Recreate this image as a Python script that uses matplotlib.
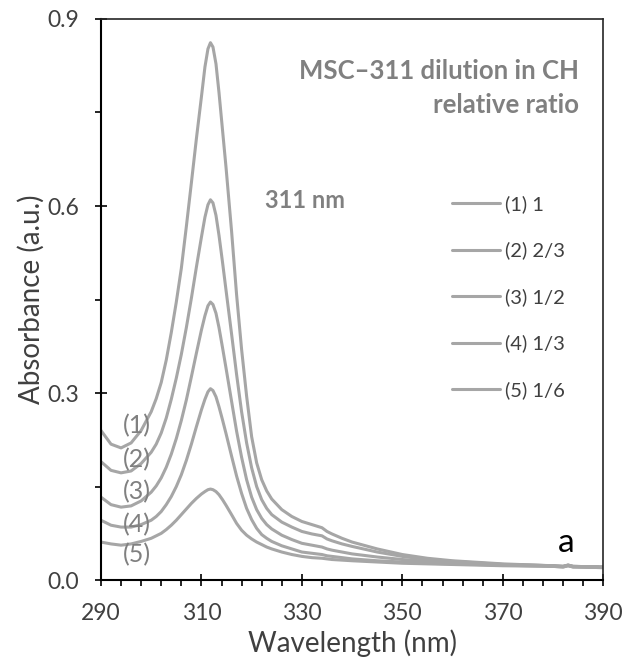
import matplotlib
matplotlib.use("Agg")
import matplotlib.pyplot as plt
from matplotlib.ticker import MultipleLocator, FormatStrFormatter

plt.rcParams['font.family'] = ['Lato', 'DejaVu Sans']

# wavelength grid (nm)
wl = [290, 292, 294, 296, 298, 300, 301, 302, 303, 304, 305, 306, 307, 308, 309, 310,
      310.7, 311.3, 311.8, 312.3, 312.9, 313.5, 314.2, 314.9, 316, 317, 318, 319, 320,
      321, 322, 323, 324, 326, 328, 330, 332, 334, 335, 336, 338, 340, 345, 350, 355,
      360, 370, 380, 382, 383, 384, 390]

abs_1 = [0.240, 0.218, 0.212, 0.220, 0.240, 0.270, 0.291, 0.317, 0.353, 0.397, 0.446,
         0.500, 0.567, 0.637, 0.708, 0.775, 0.823, 0.852, 0.862, 0.855, 0.828, 0.782,
         0.722, 0.662, 0.560, 0.458, 0.370, 0.295, 0.230, 0.188, 0.161, 0.143, 0.130,
         0.113, 0.102, 0.094, 0.089, 0.084, 0.078, 0.074, 0.067, 0.061, 0.050, 0.041,
         0.035, 0.031, 0.026, 0.023, 0.022, 0.024, 0.022, 0.021]
abs_2 = [0.190, 0.176, 0.172, 0.175, 0.187, 0.205, 0.218, 0.236, 0.260, 0.290, 0.324,
         0.362, 0.405, 0.452, 0.502, 0.550, 0.582, 0.602, 0.610, 0.605, 0.585, 0.553,
         0.510, 0.465, 0.395, 0.330, 0.270, 0.220, 0.180, 0.150, 0.129, 0.115, 0.105,
         0.093, 0.085, 0.078, 0.074, 0.071, 0.066, 0.063, 0.058, 0.054, 0.045, 0.038,
         0.033, 0.030, 0.025, 0.023, 0.022, 0.024, 0.022, 0.021]
abs_3 = [0.133, 0.121, 0.117, 0.119, 0.127, 0.141, 0.151, 0.164, 0.181, 0.202, 0.227,
         0.256, 0.289, 0.326, 0.364, 0.401, 0.424, 0.440, 0.446, 0.442, 0.428, 0.405,
         0.373, 0.340, 0.287, 0.239, 0.197, 0.161, 0.133, 0.113, 0.099, 0.089, 0.082,
         0.072, 0.065, 0.059, 0.056, 0.053, 0.050, 0.048, 0.045, 0.042, 0.037, 0.033,
         0.030, 0.028, 0.025, 0.023, 0.022, 0.024, 0.022, 0.021]
abs_4 = [0.096, 0.088, 0.085, 0.085, 0.089, 0.096, 0.102, 0.110, 0.121, 0.134, 0.150,
         0.169, 0.192, 0.218, 0.246, 0.273, 0.290, 0.302, 0.307, 0.304, 0.294, 0.278,
         0.257, 0.235, 0.199, 0.167, 0.139, 0.115, 0.097, 0.083, 0.073, 0.067, 0.062,
         0.055, 0.050, 0.045, 0.043, 0.041, 0.039, 0.038, 0.036, 0.034, 0.031, 0.029,
         0.027, 0.026, 0.024, 0.022, 0.021, 0.023, 0.021, 0.020]
abs_5 = [0.061, 0.058, 0.056, 0.058, 0.062, 0.067, 0.071, 0.075, 0.081, 0.088, 0.096,
         0.105, 0.114, 0.123, 0.131, 0.138, 0.142, 0.145, 0.146, 0.145, 0.142, 0.137,
         0.129, 0.120, 0.105, 0.091, 0.080, 0.072, 0.066, 0.061, 0.057, 0.053, 0.050,
         0.045, 0.041, 0.038, 0.036, 0.035, 0.034, 0.033, 0.032, 0.031, 0.029, 0.027,
         0.026, 0.025, 0.023, 0.022, 0.021, 0.023, 0.021, 0.020]

series = [abs_1, abs_2, abs_3, abs_4, abs_5]
legend_labels = ["(1) 1", "(2) 2/3", "(3) 1/2", "(4) 1/3", "(5) 1/6"]
curve_tags = ["(1)", "(2)", "(3)", "(4)", "(5)"]
tag_y = [0.247, 0.193, 0.142, 0.089, 0.040]
tag_x = 297.2

line_color = "#A6A6A6"
text_grey = "#808080"

fig = plt.figure(figsize=(6.31, 6.66), dpi=100)
ax = fig.add_axes([0.160, 0.129, 0.796, 0.8425])

for ys, lab in zip(series, legend_labels):
    ax.plot(wl, ys, color=line_color, lw=2.2, label=lab, solid_capstyle='round')

for t, y in zip(curve_tags, tag_y):
    ax.text(tag_x, y, t, color=text_grey, fontsize=18, ha='center', va='center')

ax.text(0.952, 0.929, "MSC\u2013311 dilution in CH\nrelative ratio", transform=ax.transAxes,
        ha='right', va='top', fontsize=18.5, fontweight='bold', color=text_grey,
        linespacing=1.5)
ax.text(0.327, 0.676, "311 nm", transform=ax.transAxes, ha='left', va='center',
        fontsize=17, fontweight='bold', color=text_grey)
ax.text(0.926, 0.040, "a", transform=ax.transAxes, ha='center', va='bottom',
        fontsize=24, color='black')

leg = ax.legend(loc='upper left', bbox_to_anchor=(0.699, 0.686), frameon=False,
                fontsize=14.5, handlelength=2.4, handletextpad=0.25,
                labelspacing=1.42, borderpad=0, borderaxespad=0)
for txt in leg.get_texts():
    txt.set_color("#404040")

ax.set_xlim(290, 390)
ax.set_ylim(0, 0.9)
ax.xaxis.set_major_locator(MultipleLocator(20, offset=10))
ax.xaxis.set_minor_locator(MultipleLocator(4, offset=2))
ax.yaxis.set_major_locator(MultipleLocator(0.3))
ax.yaxis.set_minor_locator(MultipleLocator(0.15))
ax.yaxis.set_major_formatter(FormatStrFormatter('%.1f'))

ax.tick_params(which='major', direction='inout', length=9, width=1.2,
               labelsize=16.5, labelcolor='#404040')
ax.tick_params(axis='x', which='major', pad=12)
ax.tick_params(axis='y', which='major', pad=11)
ax.tick_params(which='minor', direction='out', length=4, width=1.2)
ax.tick_params(top=False, right=False, which='both')

for side in ['left', 'bottom']:
    ax.spines[side].set_linewidth(1.5)
    ax.spines[side].set_color('black')
for side in ['top', 'right']:
    ax.spines[side].set_linewidth(1.2)
    ax.spines[side].set_color('#262626')

ax.set_xlabel("Wavelength (nm)", fontsize=20, color='#404040', labelpad=4)
ax.set_ylabel("Absorbance (a.u.)", fontsize=20, color='#404040', labelpad=2)

fig.savefig("out.png", dpi=100)
